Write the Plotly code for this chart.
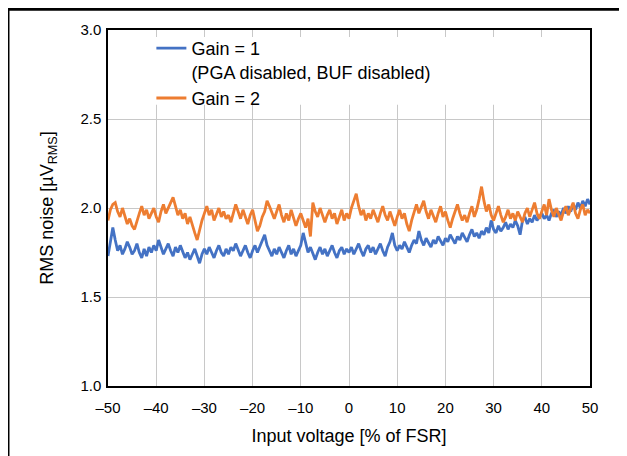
import numpy as np
import plotly.graph_objects as go

# input voltage, % of FSR (0.5 % steps)
input_pct = np.arange(-50, 50.5, 0.5)

# RMS noise, uV_RMS
noise_gain1 = [
    1.73, 1.80, 1.89, 1.82, 1.76, 1.79, 1.74, 1.77, 1.81, 1.78,
    1.74, 1.76, 1.80, 1.75, 1.72, 1.77, 1.73, 1.78, 1.75, 1.79,
    1.76, 1.82, 1.78, 1.74, 1.77, 1.80, 1.76, 1.73, 1.78, 1.75,
    1.79, 1.76, 1.72, 1.75, 1.71, 1.74, 1.77, 1.73, 1.69, 1.74,
    1.77, 1.74, 1.78, 1.75, 1.72, 1.76, 1.79, 1.75, 1.73, 1.77,
    1.74, 1.78, 1.76, 1.80, 1.77, 1.73, 1.76, 1.79, 1.75, 1.72,
    1.76, 1.79, 1.75, 1.78, 1.82, 1.85, 1.79, 1.76, 1.73, 1.77,
    1.74, 1.78, 1.75, 1.72, 1.76, 1.79, 1.74, 1.77, 1.73, 1.76,
    1.79, 1.86, 1.80, 1.75, 1.78, 1.74, 1.71, 1.75, 1.78, 1.74,
    1.77, 1.73, 1.76, 1.79, 1.75, 1.72, 1.76, 1.78, 1.74, 1.77,
    1.75, 1.78, 1.74, 1.77, 1.80, 1.76, 1.73, 1.77, 1.79, 1.75,
    1.78, 1.74, 1.77, 1.80, 1.76, 1.73, 1.78, 1.81, 1.86, 1.79,
    1.76, 1.79, 1.77, 1.81, 1.78, 1.75, 1.79, 1.82, 1.80, 1.87,
    1.82, 1.79, 1.83, 1.80, 1.78, 1.82, 1.80, 1.84, 1.81, 1.79,
    1.83, 1.81, 1.85, 1.82, 1.80, 1.84, 1.82, 1.86, 1.83, 1.81,
    1.85, 1.88, 1.84, 1.86, 1.83, 1.87, 1.85, 1.89, 1.86, 1.93,
    1.88, 1.86, 1.90, 1.87, 1.89, 1.92, 1.88, 1.91, 1.89, 1.93,
    1.90, 1.85, 1.93, 1.95, 1.91, 1.94, 1.92, 1.96, 1.93, 1.95,
    1.97, 1.94, 1.96, 1.93, 1.97, 1.99, 1.95, 1.98, 1.96, 2.00,
    1.97, 2.01, 1.98, 2.02, 1.99, 2.03, 2.00, 2.04, 2.01, 2.05,
    2.02,
]
noise_gain2 = [
    1.93, 1.99, 2.02, 2.03, 1.98, 1.95, 2.00, 1.96, 1.91, 1.94,
    1.90, 1.88, 1.93, 1.97, 2.01, 1.96, 1.99, 1.94, 1.97, 2.00,
    1.95, 1.92, 1.98, 2.02, 1.97, 2.00, 2.04, 2.06, 2.01, 1.96,
    1.99, 1.94, 1.97, 1.91, 1.95, 1.90, 1.86, 1.82, 1.88, 1.93,
    1.97, 2.01, 1.96, 1.99, 1.93, 1.97, 2.00, 1.95, 1.98, 1.94,
    1.96, 1.92, 1.97, 2.02, 1.98, 1.94, 1.99, 1.95, 1.91, 1.96,
    1.99, 1.93, 1.87, 1.90, 1.95, 1.98, 2.04, 2.01, 1.97, 1.94,
    1.98, 2.02, 1.96, 1.92, 1.97, 1.93, 1.99, 1.95, 1.90, 1.94,
    1.97, 1.93, 1.89, 1.94, 1.84, 2.03, 1.98, 1.95, 2.00, 1.96,
    1.92, 1.96, 1.99, 1.94, 1.97, 1.91, 1.95, 1.99, 1.93, 1.97,
    1.94, 2.00, 2.04, 2.08, 2.01, 1.96, 1.99, 1.93, 1.97, 1.94,
    1.99, 1.95, 1.92, 1.97, 2.01, 1.96, 1.93, 1.98, 1.94, 1.90,
    1.95, 1.99, 1.94, 1.97, 1.91, 1.87, 1.93, 1.98, 2.02, 1.97,
    2.00, 2.04, 1.98, 1.94, 1.99, 1.96, 1.92, 1.97, 2.01, 1.95,
    1.98, 1.93, 1.89, 1.94, 1.98, 2.02, 1.97, 1.93, 1.96, 1.92,
    1.97, 2.01, 1.95, 1.99, 2.05, 2.12, 2.04, 1.98, 2.02, 1.96,
    1.93, 1.97, 2.01, 1.96, 1.92, 1.95, 1.99, 1.94, 1.97, 1.93,
    1.98, 1.95, 1.92, 1.97, 2.00, 1.95, 1.99, 2.03, 1.97, 1.94,
    1.98, 2.02, 1.96, 2.05, 1.99, 1.95, 2.00, 1.96, 1.93, 1.98,
    2.01, 1.96, 1.99, 2.03, 1.97, 1.94, 1.99, 2.02, 1.96, 1.99,
    1.97,
]

x_ticks = [-50, -40, -30, -20, -10, 0, 10, 20, 30, 40, 50]
x_ticktext = ["–50", "–40", "–30", "–20", "–10", "0", "10", "20", "30", "40", "50"]
y_ticks = [1.0, 1.5, 2.0, 2.5, 3.0]

font = "Liberation Sans, Arial, sans-serif"

fig = go.Figure()
fig.add_trace(go.Scatter(x=input_pct, y=noise_gain1, mode="lines",
                         line=dict(color="#4472C4", width=2.8),
                         name="Gain = 1<br>(PGA disabled, BUF disabled)"))
fig.add_trace(go.Scatter(x=input_pct, y=noise_gain2, mode="lines",
                         line=dict(color="#ED7D31", width=2.8),
                         name="Gain = 2"))

# white band behind the legend (hides the gridlines there)
fig.add_shape(type="rect", xref="x domain", yref="y domain", x0=0.004, x1=0.996,
              y0=0.79, y1=0.98, fillcolor="white", line=dict(width=0), layer="above")
# outer frame: top and left edges
fig.add_shape(type="line", xref="paper", yref="paper", x0=-0.2075, x1=1.08, y0=1.058, y1=1.058,
              line=dict(color="black", width=3))
fig.add_shape(type="line", xref="paper", yref="paper", x0=-0.2075, x1=-0.2075, y0=1.058, y1=-0.22,
              line=dict(color="black", width=3))

# page body adds an 8 px offset, so the figure is 8 px smaller
fig.update_layout(
    width=619, height=448,
    margin=dict(l=100, r=37, t=22, b=70),
    plot_bgcolor="white", paper_bgcolor="white",
    font=dict(family=font, size=15, color="black"),
    showlegend=True,
    legend=dict(x=0.09, y=1.0, xanchor="left", yanchor="top", bgcolor="rgba(0,0,0,0)",
                font=dict(size=18), valign="top", tracegroupgap=0),
)
fig.update_xaxes(range=[-50, 50], tickvals=x_ticks, ticktext=x_ticktext,
                 showgrid=True, gridcolor="#c8c8c8", gridwidth=1,
                 showline=True, linecolor="black", linewidth=1.5, mirror=True,
                 ticks="outside", ticklen=7, tickcolor="rgba(0,0,0,0)", zeroline=False,
                 title=dict(text="Input voltage [% of FSR]", standoff=15))
fig.update_yaxes(range=[1.0, 3.0], tickvals=y_ticks, tickformat=".1f",
                 showgrid=True, gridcolor="#c8c8c8", gridwidth=1,
                 showline=True, linecolor="black", linewidth=1.5, mirror=True,
                 ticks="outside", ticklen=2, tickcolor="rgba(0,0,0,0)", zeroline=False,
                 title=dict(text="RMS noise [µV<sub>RMS</sub>]", standoff=22))

fig.write_html("out.html")
